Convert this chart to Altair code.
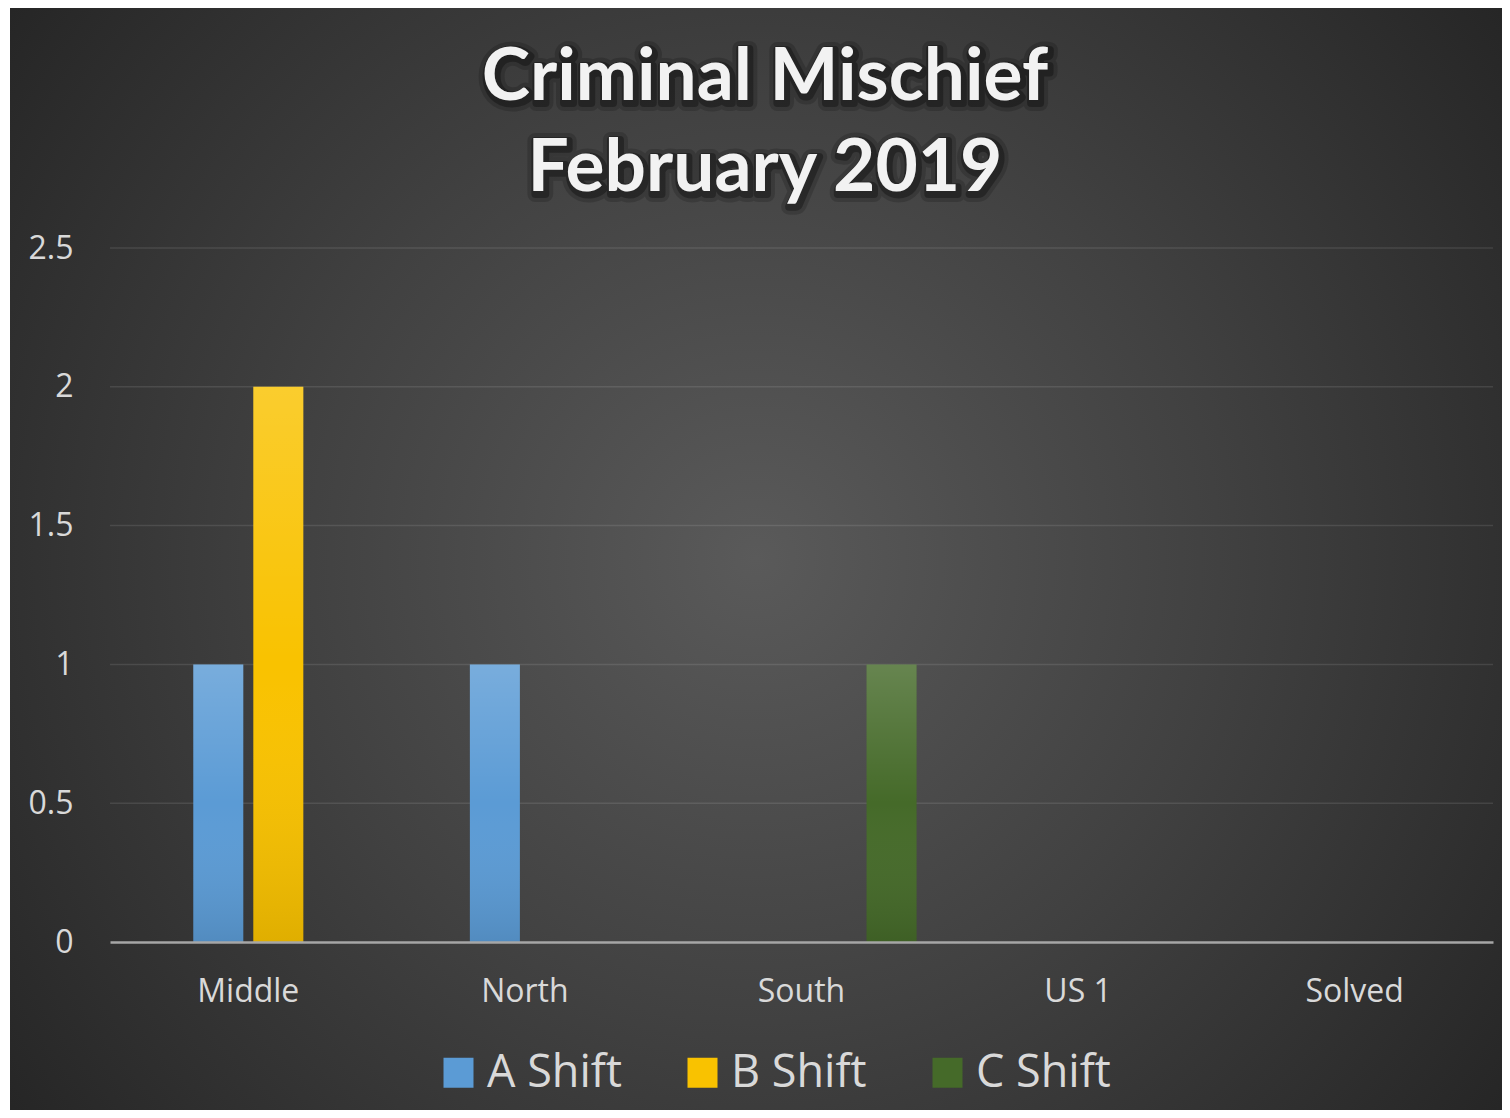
import altair as alt
import pandas as pd

regions = ["Middle", "North", "South", "US 1", "Solved"]
series_names = ["A Shift", "B Shift", "C Shift"]
a_shift = [1, 1, 0, 0, 0]
b_shift = [2, 0, 0, 0, 0]
c_shift = [0, 0, 1, 0, 0]
series_colors = ["#5b9bd5", "#f9c200", "#456a29"]
y_ticks = [0, 0.5, 1, 1.5, 2, 2.5]
title_lines = ["Criminal Mischief", "February 2019"]

rows = []
for name, vals in zip(series_names, [a_shift, b_shift, c_shift]):
    for r, v in zip(regions, vals):
        rows.append({"region": r, "series": name, "value": v})
df = pd.DataFrame(rows)
grid_df = pd.DataFrame({"value": y_ticks[1:]})

W, H = 1383, 694

bg_grad = alt.RadialGradient(
    gradient="radial",
    stops=[
        alt.GradientStop(offset=0, color="#5a5a5a"),
        alt.GradientStop(offset=0.5, color="#414141"),
        alt.GradientStop(offset=1, color="#262626"),
    ],
    x1=0.5, y1=0.5, r1=0, x2=0.5, y2=0.5, r2=0.62,
)

background = alt.Chart(pd.DataFrame({"k": [0]})).mark_rect(fill=bg_grad).encode(
    x=alt.value(-100), x2=alt.value(W + 9), y=alt.value(-240), y2=alt.value(H + 168)
)

x_axis = alt.Axis(
    title=None, labelAngle=0, zindex=1, grid=False, ticks=False,
    labelFont="Open Sans", labelFontSize=32, labelColor="#d9d9d9", labelPadding=34,
    domain=True, domainColor="#a6a6a6", domainWidth=2.5,
)
x_enc = alt.X(
    "region:N", sort=regions,
    scale=alt.Scale(paddingInner=0.132, paddingOuter=0.066),
    axis=x_axis,
)
xoff_enc = alt.XOffset(
    "series:N",
    scale=alt.Scale(domain=["_"] + series_names, paddingInner=0.167, paddingOuter=0.083),
)
y_axis = alt.Axis(
    title=None, values=y_ticks, format="~g", zindex=1, grid=False, ticks=False,
    domain=False, labelFont="Open Sans", labelFontSize=32, labelColor="#d9d9d9",
    labelPadding=37,
)
y_enc = alt.Y("value:Q", scale=alt.Scale(domain=[0, 2.5]), axis=y_axis)

gridlines = alt.Chart(grid_df).mark_rule(color="#ffffff", opacity=0.1, strokeWidth=1.5).encode(
    y=y_enc
)

bars = alt.Chart(df).mark_bar().encode(
    x=x_enc, xOffset=xoff_enc, y=y_enc,
    color=alt.Color(
        "series:N",
        scale=alt.Scale(domain=series_names, range=series_colors),
        legend=alt.Legend(
            title=None, orient="none", legendX=326, legendY=802,
            direction="horizontal", symbolType="square", symbolSize=900,
            symbolStrokeWidth=0, labelFont="Open Sans", labelFontSize=45,
            labelColor="#d9d9d9", labelOffset=6, columnPadding=58, padding=0,
        ),
    ),
)

shade = alt.LinearGradient(
    gradient="linear",
    stops=[
        alt.GradientStop(offset=0, color="rgba(255,255,255,0.18)"),
        alt.GradientStop(offset=0.5, color="rgba(255,255,255,0)"),
        alt.GradientStop(offset=1, color="rgba(0,0,0,0.10)"),
    ],
    x1=0, y1=0, x2=0, y2=1,
)
overlay = alt.Chart(df).mark_bar(fill=shade).encode(x=x_enc, xOffset=xoff_enc, y=y_enc)

title_df = pd.DataFrame({"t": ["\n".join(title_lines)]})
title_common = dict(font="Lato", fontSize=73, fontWeight="bold", lineBreak="\n",
                    lineHeight=91, align="center", baseline="alphabetic")
shadow1 = alt.Chart(title_df).mark_text(
    color="#000000", opacity=0.16, stroke="#000000", strokeWidth=16,
    strokeJoin="round", dx=2, dy=3, **title_common
).encode(x=alt.value(655), y=alt.value(-148), text="t:N")
shadow2 = alt.Chart(title_df).mark_text(
    color="#000000", opacity=0.3, stroke="#000000", strokeWidth=8,
    strokeJoin="round", dx=2, dy=3, **title_common
).encode(x=alt.value(655), y=alt.value(-148), text="t:N")
title = alt.Chart(title_df).mark_text(color="#f2f2f2", **title_common).encode(
    x=alt.value(655), y=alt.value(-148), text="t:N"
)

chart = alt.layer(background, gridlines, bars, overlay, shadow1, shadow2, title).properties(
    width=W, height=H,
    padding={"left": 2, "top": 0, "right": 0, "bottom": 0},
    background="#ffffff",
).configure_view(stroke=None)

chart.save("out.html", embed_options={"renderer": "svg", "actions": False})
